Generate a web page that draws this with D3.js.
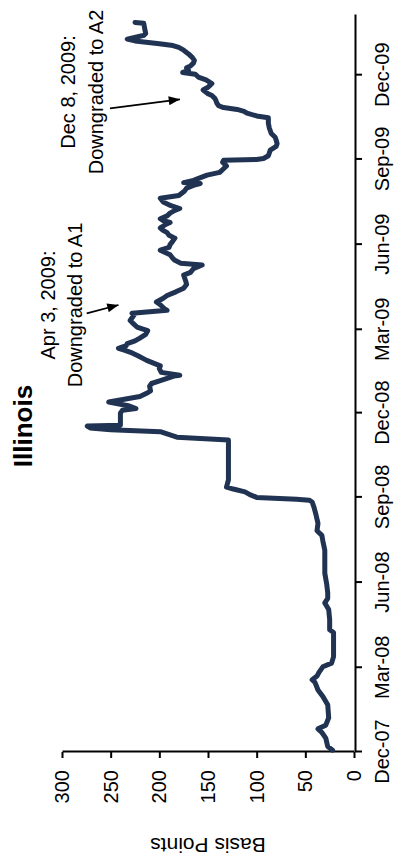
<!DOCTYPE html>
<html>
<head>
<meta charset="utf-8">
<script src="https://cdn.jsdelivr.net/npm/d3@7"></script>
<style>
  html, body { margin: 0; padding: 0; background: #fff; }
  svg { display: block; }
  text { font-family: "Liberation Sans", Arial, sans-serif; fill: #000; }
</style>
</head>
<body>
<svg id="chart" width="396" height="862"></svg>
<script>
// Illinois GO bond spread, basis points
const dates = [
  "2007-12-03","2007-12-07","2007-12-16","2007-12-22","2007-12-26","2007-12-30",
  "2008-01-07","2008-01-21","2008-01-30","2008-02-06","2008-02-14","2008-02-17",
  "2008-02-21","2008-02-25","2008-03-02","2008-03-06","2008-03-13","2008-03-26",
  "2008-04-08","2008-04-11","2008-04-22","2008-05-03","2008-05-10","2008-05-15",
  "2008-05-21","2008-05-30","2008-06-11","2008-06-25","2008-07-06","2008-07-16",
  "2008-07-22","2008-07-27","2008-08-04","2008-08-13","2008-08-21","2008-08-27",
  "2008-08-29","2008-08-30","2008-09-01","2008-09-04","2008-09-07","2008-09-10",
  "2008-09-12","2008-09-20","2008-10-11","2008-11-02","2008-11-05","2008-11-11",
  "2008-11-13","2008-11-15","2008-11-17","2008-11-18","2008-11-25","2008-12-01",
  "2008-12-04","2008-12-06","2008-12-09","2008-12-13","2008-12-16",
  "2008-12-19","2008-12-23","2008-12-25","2008-12-30","2009-01-02","2009-01-05",
  "2009-01-10","2009-01-11","2009-01-14","2009-01-18","2009-01-21","2009-01-27",
  "2009-02-01","2009-02-04","2009-02-07","2009-02-09","2009-02-12","2009-02-14",
  "2009-02-17","2009-02-20","2009-02-24","2009-02-28","2009-03-04","2009-03-08",
  "2009-03-11","2009-03-17","2009-03-19","2009-03-22","2009-03-24","2009-03-28",
  "2009-03-31","2009-04-04","2009-04-07","2009-04-11","2009-04-15","2009-04-19",
  "2009-04-23","2009-04-29","2009-05-02","2009-05-06","2009-05-10","2009-05-12",
  "2009-05-15","2009-05-17","2009-05-21","2009-05-26","2009-05-29","2009-06-01",
  "2009-06-05","2009-06-08","2009-06-11","2009-06-14","2009-06-17","2009-06-19",
  "2009-06-23","2009-06-25","2009-06-27","2009-06-29","2009-07-02","2009-07-05",
  "2009-07-08","2009-07-10","2009-07-13","2009-07-17","2009-07-21","2009-07-24",
  "2009-07-29","2009-08-01","2009-08-04","2009-08-06","2009-08-07","2009-08-09",
  "2009-08-11","2009-08-15","2009-08-18","2009-08-22","2009-08-25","2009-08-29",
  "2009-08-31","2009-09-01","2009-09-02","2009-09-05","2009-09-11","2009-09-15",
  "2009-09-18","2009-09-22","2009-09-25","2009-09-29","2009-10-02","2009-10-05",
  "2009-10-10","2009-10-16","2009-10-18","2009-10-21","2009-10-23","2009-10-25",
  "2009-10-27","2009-10-29","2009-11-01","2009-11-04","2009-11-06","2009-11-09",
  "2009-11-11","2009-11-15","2009-11-18","2009-11-20","2009-11-22","2009-11-26",
  "2009-11-29","2009-12-02","2009-12-04","2009-12-06","2009-12-09","2009-12-11",
  "2009-12-14","2009-12-17","2009-12-20","2009-12-24","2009-12-28","2009-12-31",
  "2010-01-02","2010-01-04","2010-01-05","2010-01-07","2010-01-09","2010-01-12",
  "2010-01-13","2010-01-15","2010-01-20","2010-01-26","2010-01-27"
];
const spreads = [
  22, 27, 29, 33, 37, 29,
  26, 27, 32, 37, 40, 43,
  38, 36, 32, 23, 21, 21,
  21, 25, 25, 26, 30, 27,
  27, 28, 30, 30, 30, 32,
  33, 38, 37, 39, 41, 43,
  46, 59, 100, 107, 112, 124,
  131, 129, 129, 129, 182, 199,
  250, 271, 274, 240, 240, 240,
  238, 224, 232, 252, 236,
  220, 212, 209, 210, 208, 199,
  185, 179, 198, 200, 199, 213,
  222, 228, 236, 242, 234, 233,
  225, 220, 214, 212, 223, 227,
  230, 226, 228, 192, 195, 199,
  203, 196, 192, 183, 175, 172,
  173, 175, 168, 165, 156, 178,
  184, 186, 189, 199, 190, 189,
  186, 184, 190, 192, 197, 199,
  193, 189, 196, 199, 192, 189,
  184, 179, 188, 196, 199, 180,
  174, 172, 165, 158, 175, 166,
  161, 151, 138, 134, 131, 135,
  134, 100, 93, 88, 86, 80,
  79, 80, 81, 85, 86, 87,
  88, 88, 100, 110, 113, 120,
  134, 139, 141, 142, 143, 146,
  150, 155, 150, 148, 146, 152,
  160, 163, 176, 170, 172, 168,
  165, 164, 166, 170, 175, 180,
  186, 200, 209, 225, 233, 220,
  216, 214, 215, 216, 225
];

// Axis ticks
const quarterTicks = [
  "2007-12-01","2008-03-01","2008-06-01","2008-09-01","2008-12-01",
  "2009-03-01","2009-06-01","2009-09-01","2009-12-01"
];
const valueTicks = [0, 50, 100, 150, 200, 250, 300];
const timeDomain = ["2007-12-01", "2010-02-04"];

// Rating actions
const noteLines = [
  ["Apr 3, 2009:", "Downgraded to A1"],
  ["Dec 8, 2009:", "Downgraded to A2"]
];

const chartTitle = "Illinois";
const valueTitle = "Basis Points";

const parse = d3.timeParse("%Y-%m-%d");
const series = dates.map((d, i) => ({ date: parse(d), value: spreads[i] }));

// The chart is laid out landscape (862 x 396) and turned a quarter turn
// counter-clockwise to fit the portrait page.
const W = 862, H = 396;
const svg = d3.select("#chart");
const g = svg.append("g").attr("transform", `translate(0,${W}) rotate(-90)`);

const x = d3.scaleTime().domain(timeDomain.map(parse)).range([110, 847]);
const y = d3.scaleLinear().domain([0, 300]).range([354, 62]);

const fontSize = 20;

// time axis
const xAxis = g.append("g")
  .attr("transform", "translate(0,355)")
  .call(d3.axisBottom(x)
    .tickValues(quarterTicks.map(parse))
    .tickFormat(d3.timeFormat("%b-%y"))
    .tickSize(7)
    .tickSizeOuter(0)
    .tickPadding(13));
xAxis.select(".domain").attr("stroke", "#000").attr("stroke-width", 2);
xAxis.selectAll(".tick line").attr("stroke", "#000").attr("stroke-width", 2);
xAxis.selectAll(".tick text")
  .attr("font-size", fontSize)
  .attr("font-family", "Liberation Sans, Arial, sans-serif")
  .attr("fill", "#000");

// value axis
const yAxis = g.append("g")
  .attr("transform", "translate(110,0)")
  .call(d3.axisLeft(y)
    .tickValues(valueTicks)
    .tickSize(6)
    .tickSizeOuter(0)
    .tickPadding(12));
yAxis.select(".domain").attr("stroke", "#000").attr("stroke-width", 2);
yAxis.selectAll(".tick line").attr("stroke", "#000").attr("stroke-width", 2);
yAxis.selectAll(".tick text")
  .attr("font-size", fontSize)
  .attr("font-family", "Liberation Sans, Arial, sans-serif")
  .attr("fill", "#000");

// value axis title
g.append("text")
  .attr("transform", `translate(24,${(y(0) + y(300)) / 2}) rotate(-90)`)
  .attr("text-anchor", "middle")
  .attr("font-size", 21)
  .text(valueTitle);

// chart title
g.append("text")
  .attr("x", 436)
  .attr("y", 32)
  .attr("text-anchor", "middle")
  .attr("font-size", 26)
  .attr("font-weight", "bold")
  .text(chartTitle);

// spread line
const line = d3.line().x(d => x(d.date)).y(d => y(d.value));
g.append("path")
  .datum(series)
  .attr("fill", "none")
  .attr("stroke", "#213352")
  .attr("stroke-width", 5)
  .attr("stroke-linejoin", "round")
  .attr("stroke-linecap", "round")
  .attr("d", line);

// annotations
const defs = svg.append("defs");
defs.append("marker")
  .attr("id", "head")
  .attr("viewBox", "0 0 10 8")
  .attr("refX", 10)
  .attr("refY", 4)
  .attr("markerWidth", 12)
  .attr("markerHeight", 9)
  .attr("markerUnits", "userSpaceOnUse")
  .attr("orient", "auto")
  .append("path")
  .attr("d", "M0,0 L10,4 L0,8 Z")
  .attr("fill", "#000");

const notePlacement = [
  { cx: 557, base: 55, gap: 27, from: [548.7, 86.7], to: [557, 118.5] },
  { cx: 770, base: 75, gap: 28, from: [753.7, 110], to: [762.7, 180] }
];

noteLines.forEach((lines, i) => {
  const p = notePlacement[i];
  const t = g.append("text")
    .attr("text-anchor", "middle")
    .attr("font-size", fontSize);
  lines.forEach((s, j) => {
    t.append("tspan").attr("x", p.cx).attr("y", p.base + j * p.gap).text(s);
  });
  g.append("line")
    .attr("x1", p.from[0]).attr("y1", p.from[1])
    .attr("x2", p.to[0]).attr("y2", p.to[1])
    .attr("stroke", "#000")
    .attr("stroke-width", 1.8)
    .attr("marker-end", "url(#head)");
});
</script>
</body>
</html>
